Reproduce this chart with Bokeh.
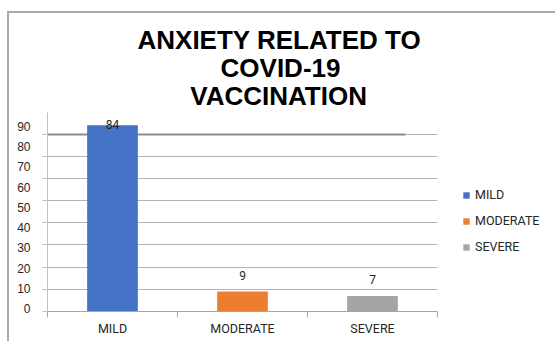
import numpy as np
from bokeh.plotting import figure
from bokeh.models import (Range1d, FixedTicker, Title, Legend, LegendItem,
                          ColumnDataSource, Grid)
from bokeh.core.properties import value
from bokeh.embed import file_html
from bokeh.resources import INLINE

# ---- data ----
categories = ["MILD", "MODERATE", "SEVERE"]
counts = [84, 9, 7]
colors = ["#4472C4", "#ED7D31", "#A5A5A5"]
grid_values = [0, 10, 20, 30, 40, 50, 60, 70, 80]
y_tick_labels = ["0", "10", "20", "30", "40", "50", "60", "70", "80", "90"]
title_lines = ["ANXIETY RELATED TO", "COVID-19", "VACCINATION"]

# ---- styling constants ----
Y_END = 89.7
LABEL_SCALE = 0.915   # the reference's tick labels drift from the gridlines
LABEL_SHIFT = 1.2
SMALL_FONT = "Roboto"
TITLE_FONT_PX = 26
TITLE_CENTER = 233    # px from the frame's left edge
TITLE_STANDOFFS = [3, -12, 4]   # per line, top to bottom (sets line spacing)
# advance widths (1/1000 em) of Liberation Sans Bold, used to centre each line
BOLD_W = {"A": 722, "N": 722, "X": 667, "I": 278, "E": 667, "T": 611, "Y": 667,
          " ": 278, "R": 722, "L": 611, "D": 722, "O": 778, "C": 722, "V": 667,
          "-": 333, "1": 556, "9": 556}


def line_width(s):
    return sum(BOLD_W.get(ch, 600) for ch in s) * TITLE_FONT_PX / 1000.0


idx = list(range(len(categories)))
vals = np.array(counts, dtype=float)

p = figure(width=548, height=330, title=None,
           x_range=Range1d(-0.5, 3.423), y_range=Range1d(0, Y_END),
           output_backend="svg", toolbar_location=None,
           min_border_left=38, min_border_right=0,
           min_border_top=99, min_border_bottom=32)
p.margin = (11, 0, 0, 7)
p.styles = {"border-top": "2px solid #ababab", "border-left": "2px solid #ababab"}
p.outline_line_color = None
p.background_fill_color = "white"
p.border_fill_color = "white"

# title: one centred line each, nearest line to the plot added first
for line, so in reversed(list(zip(title_lines, TITLE_STANDOFFS))):
    p.add_layout(Title(text=line, align="left",
                       offset=TITLE_CENTER - line_width(line) / 2,
                       text_font="Liberation Sans",
                       text_font_size=f"{TITLE_FONT_PX}px",
                       text_font_style="bold", text_color="black",
                       standoff=so), "above")

# grid
p.xgrid.visible = False
p.ygrid.ticker = FixedTicker(ticks=grid_values)
p.ygrid.grid_line_color = "#b4b4b4"
p.ygrid.grid_line_width = 1
p.ygrid.cross_bounds = (-0.5, len(categories) - 0.5)
top_grid = Grid(dimension=1, ticker=FixedTicker(ticks=[grid_values[-1]]),
                grid_line_color="#8c8c8c", grid_line_width=2,
                cross_bounds=(-0.5, len(categories) - 0.75))
p.add_layout(top_grid)

# bars
src = ColumnDataSource(dict(x=idx, top=counts, color=colors, cat=categories))
bars = p.vbar(x="x", top="top", width=0.39, bottom=0, fill_color="color",
              line_color=None, source=src)

# data labels (outside end, kept inside the plot when there is no room)
label_y = np.minimum(vals + 7.3, Y_END - 5.2)
p.text(x=idx, y=label_y, text=[str(c) for c in counts], text_align="center",
       text_baseline="middle", text_font=value(SMALL_FONT), text_font_size="12px",
       text_color="#262626")

# x axis
xa = p.xaxis[0]
xa.ticker = FixedTicker(ticks=idx, minor_ticks=[i - 0.5 for i in range(len(categories) + 1)])
xa.major_label_overrides = {i: c for i, c in zip(idx, categories)}
xa.bounds = (-0.5, len(categories) - 0.5)
xa.major_tick_out = 0
xa.major_tick_in = 0
xa.minor_tick_out = 6
xa.minor_tick_in = 0
xa.axis_line_color = "#a6a6a6"
xa.minor_tick_line_color = "#a6a6a6"
xa.major_label_text_font = SMALL_FONT
xa.major_label_text_font_size = "12.5px"
xa.major_label_text_color = "#262626"
xa.major_label_standoff = 3

# y axis
ya = p.yaxis[0]
label_pos = [round(LABEL_SHIFT + LABEL_SCALE * float(t), 3) for t in y_tick_labels]
ya.ticker = FixedTicker(ticks=label_pos, minor_ticks=grid_values)
ya.major_label_overrides = {pos: t for pos, t in zip(label_pos, y_tick_labels)}
ya.major_tick_out = 0
ya.major_tick_in = 0
ya.minor_tick_out = 5
ya.minor_tick_in = 0
ya.axis_line_color = "#bfbfbf"
ya.minor_tick_line_color = "#bfbfbf"
ya.major_label_text_font = "Liberation Sans"
ya.major_label_text_font_size = "12px"
ya.major_label_text_color = "#262626"
ya.major_label_standoff = 12

# legend
items = [LegendItem(label=c, renderers=[bars], index=i) for i, c in enumerate(categories)]
legend = Legend(items=items, location=(415, 54), padding=0, margin=0,
                glyph_width=8, glyph_height=8, label_height=21, spacing=5,
                label_standoff=5, border_line_color=None,
                background_fill_alpha=0,
                label_text_font=SMALL_FONT, label_text_font_size="12.5px",
                label_text_color="#262626")
p.add_layout(legend)

open("out.html", "w").write(file_html(p, INLINE))
